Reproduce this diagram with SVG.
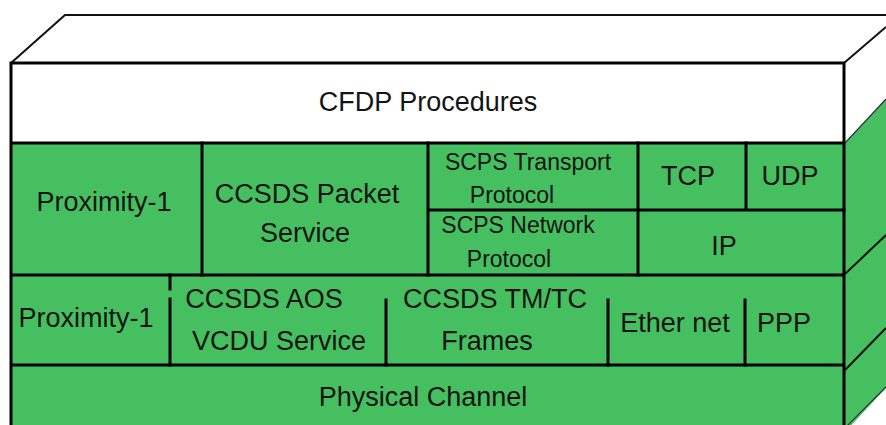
<svg xmlns="http://www.w3.org/2000/svg" width="886" height="425" viewBox="0 0 886 425">
<style>
.t{font-family:"Liberation Sans",Arial,sans-serif;font-size:27px;fill:#141414;text-anchor:middle}
.s{font-size:23px}
.ln{stroke:#000;stroke-width:3;fill:none;stroke-linecap:square}
.th{stroke:#111;stroke-width:2;fill:none}
.g{fill:#45BF5F}
</style>
<rect width="886" height="425" fill="#fff"/>
<g id="box">
  <polygon points="11,63 65,15 886,15 886,27 844,63" fill="#fff"/>
  <path class="th" d="M11,63 L65,15 L886,15 M844,63 L886,27"/>
  <polygon class="g" points="845,143 886,99 886,388 845,432"/>
  <path d="M845,143 L886,99 M846,427 L886,387" stroke="#333" stroke-width="1.2" fill="none"/>
  <path class="th" d="M845,274 L886,235 M845,370 L886,328"/>
  <rect x="11" y="63" width="833" height="80" fill="#fff"/>
  <rect class="g" x="11" y="143" width="833" height="290"/>
  <path class="ln" d="M11,63 H844 M11,63 V430 M844,63 V430 M11,143 H844 M11,275 H844 M11,365 H844"/>
  <path class="ln" d="M202,143 V275 M428,143 V275 M638,143 V275 M746,143 V210 M428,210 H844"/>
  <path class="ln" d="M170,275 V289 M170,299 V365 M386,300 V365 M608,300 V365 M745,300 V365"/>
</g>
<g id="cfdp"><text class="t" x="428" y="111">CFDP Procedures</text></g>
<g id="prox1-top"><text class="t" x="104" y="211">Proximity-1</text></g>
<g id="ccsds-packet"><text class="t" x="307" y="203">CCSDS Packet</text><text class="t" x="305" y="242">Service</text></g>
<g id="scps-transport"><text class="t s" x="528" y="170">SCPS Transport</text><text class="t s" x="512" y="203">Protocol</text></g>
<g id="scps-network"><text class="t s" x="518" y="233">SCPS Network</text><text class="t s" x="509" y="267">Protocol</text></g>
<g id="tcp"><text class="t" x="688" y="185">TCP</text></g>
<g id="udp"><text class="t" x="790" y="185">UDP</text></g>
<g id="ip"><text class="t" x="724" y="255">IP</text></g>
<g id="prox1-bottom"><text class="t" x="86" y="327">Proximity-1</text></g>
<g id="aos"><text class="t" x="264" y="308">CCSDS AOS</text><text class="t" x="279" y="350">VCDU Service</text></g>
<g id="tmtc"><text class="t" x="495" y="308">CCSDS TM/TC</text><text class="t" x="487" y="350">Frames</text></g>
<g id="ethernet"><text class="t" x="675" y="332">Ether net</text></g>
<g id="ppp"><text class="t" x="784" y="332">PPP</text></g>
<g id="physical"><text class="t" x="423" y="406">Physical Channel</text></g>
</svg>
